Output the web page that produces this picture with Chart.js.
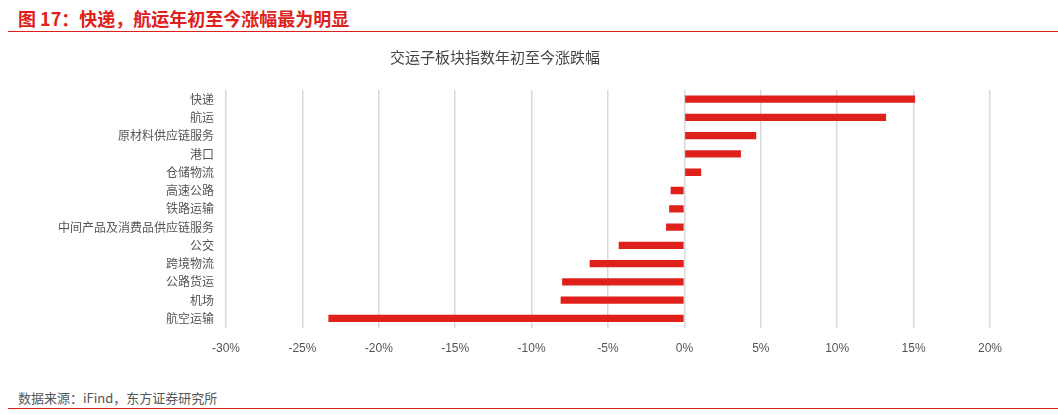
<!DOCTYPE html>
<html><head><meta charset="utf-8">
<script src="https://cdn.jsdelivr.net/npm/chart.js@4"></script>
<style>
body{margin:0;width:1058px;height:415px;background:#fff;font-family:"Noto Sans CJK SC",sans-serif;position:relative;overflow:hidden}
#hdr{position:absolute;left:18px;top:5px;color:#e0201b;font-size:18px;font-weight:bold}
#l1{position:absolute;left:8px;top:31px;width:1050px;height:1px;background:#e0201b}
#src{position:absolute;left:18px;top:388px;color:#555;font-size:13px}
#l2{position:absolute;left:8px;top:408px;width:1050px;height:1px;background:#e0201b}
#wrap{position:absolute;left:0;top:38px;width:1058px;height:332px}
</style></head><body>
<div id="hdr">图 17：快递，航运年初至今涨幅最为明显</div><div id="l1"></div>
<div id="wrap"><canvas id="c"></canvas></div>
<div id="src">数据来源：iFind，东方证券研究所</div><div id="l2"></div>
<script>
const categories=["快递","航运","原材料供应链服务","港口","仓储物流","高速公路","铁路运输","中间产品及消费品供应链服务","公交","跨境物流","公路货运","机场","航空运输"];
const values=[15.1,13.2,4.7,3.7,1.1,-0.9,-1.0,-1.2,-4.3,-6.2,-8.0,-8.1,-23.3];
new Chart(document.getElementById('c'),{type:'bar',
data:{labels:categories,datasets:[{data:values,backgroundColor:'#e0201b',barPercentage:0.4,categoryPercentage:1}]},
options:{indexAxis:'y',responsive:true,maintainAspectRatio:false,animation:false,
layout:{padding:{left:0,right:68,top:0,bottom:0}},
plugins:{legend:{display:false},tooltip:{enabled:false},
title:{display:true,text:'交运子板块指数年初至今涨跌幅',color:'#444',font:{size:15,family:'Noto Sans CJK SC',weight:'normal'},padding:{top:10,bottom:24}}},
scales:{x:{min:-30,max:20,ticks:{stepSize:5,callback:v=>v+'%',color:'#555',font:{size:12},padding:14},grid:{color:'#d9d9d9',lineWidth:1.5,drawTicks:false},border:{display:false}},
y:{ticks:{autoSkip:false,color:'#555',font:{size:12,family:'Noto Sans CJK SC'},padding:12},grid:{display:false,drawTicks:false},border:{display:false},afterFit:s=>{s.width=226}}}}});
</script></body></html>
